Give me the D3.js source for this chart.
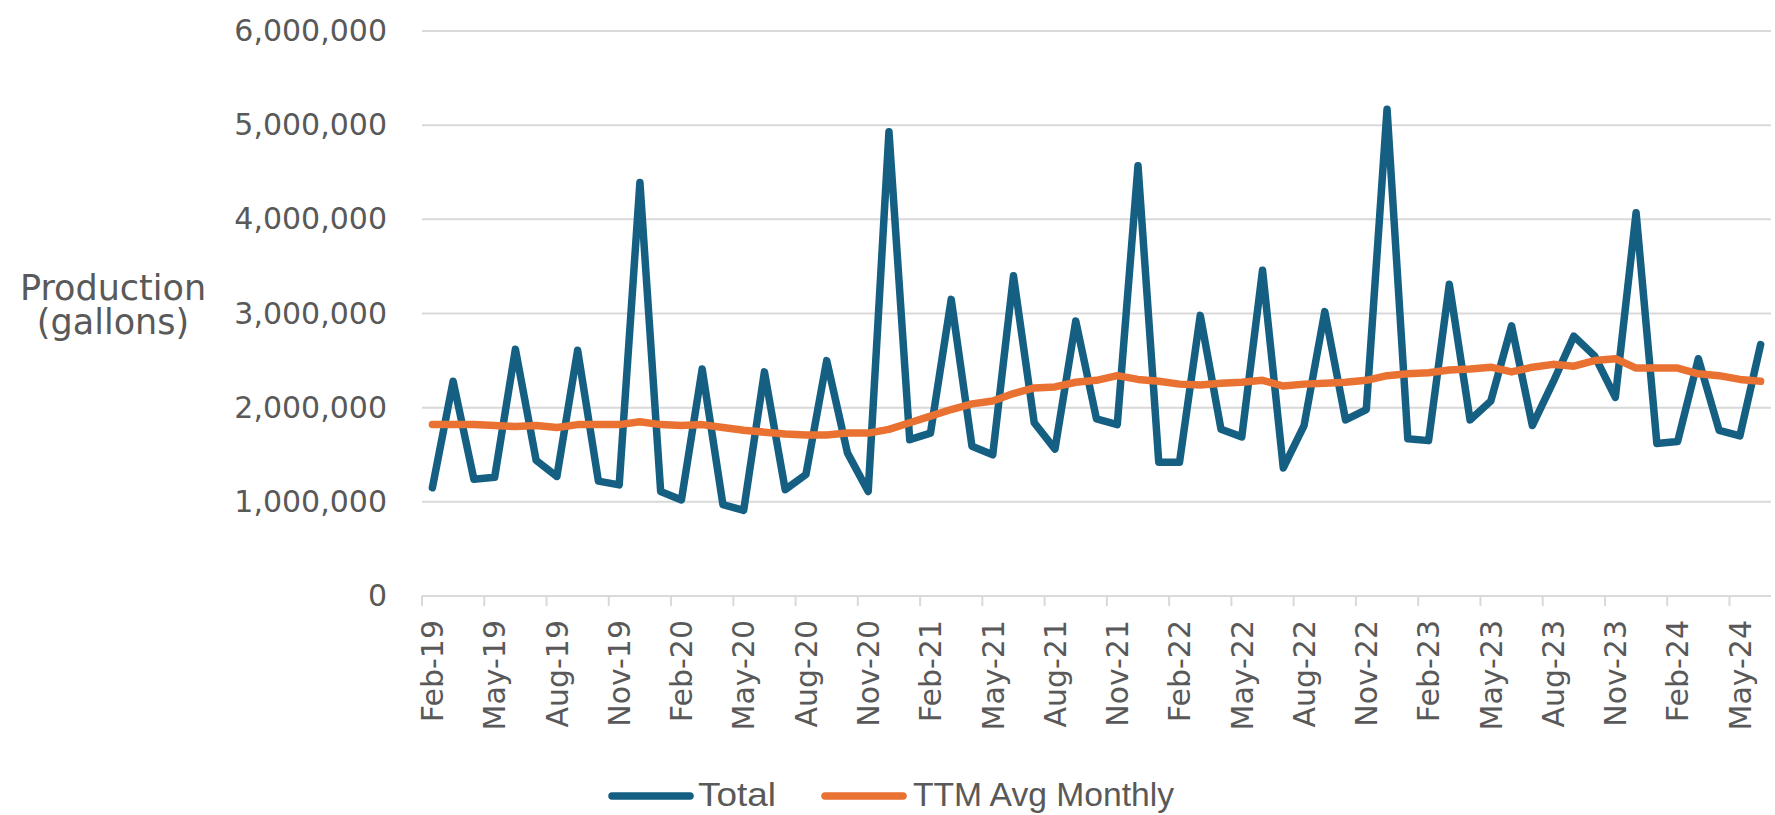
<!DOCTYPE html>
<html>
<head>
<meta charset="utf-8">
<script src="https://cdn.jsdelivr.net/npm/d3@7"></script>
<style>
  body { margin: 0; background: #fff; }
  svg { display: block; }
</style>
</head>
<body>
<div id="chart-area"></div>
<script>
// Monthly production, Feb-19 .. Jun-24 (gallons)
var months = [
  "Feb-19","Mar-19","Apr-19","May-19","Jun-19","Jul-19","Aug-19","Sep-19","Oct-19","Nov-19","Dec-19","Jan-20",
  "Feb-20","Mar-20","Apr-20","May-20","Jun-20","Jul-20","Aug-20","Sep-20","Oct-20","Nov-20","Dec-20","Jan-21",
  "Feb-21","Mar-21","Apr-21","May-21","Jun-21","Jul-21","Aug-21","Sep-21","Oct-21","Nov-21","Dec-21","Jan-22",
  "Feb-22","Mar-22","Apr-22","May-22","Jun-22","Jul-22","Aug-22","Sep-22","Oct-22","Nov-22","Dec-22","Jan-23",
  "Feb-23","Mar-23","Apr-23","May-23","Jun-23","Jul-23","Aug-23","Sep-23","Oct-23","Nov-23","Dec-23","Jan-24",
  "Feb-24","Mar-24","Apr-24","May-24","Jun-24"
];

var total = [
  1150000, 2280000, 1240000, 1260000, 2620000, 1440000, 1270000, 2610000, 1220000, 1180000, 4390000, 1110000,
  1020000, 2410000,  970000,  910000, 2380000, 1130000, 1290000, 2500000, 1520000, 1110000, 4930000, 1660000,
  1730000, 3150000, 1590000, 1500000, 3400000, 1840000, 1560000, 2920000, 1880000, 1820000, 4570000, 1420000,
  1420000, 2980000, 1770000, 1690000, 3460000, 1360000, 1810000, 3020000, 1870000, 1980000, 5170000, 1670000,
  1650000, 3310000, 1870000, 2070000, 2870000, 1810000, 2270000, 2760000, 2550000, 2110000, 4070000, 1620000,
  1640000, 2520000, 1760000, 1700000, 2670000
];

var ttmAvg = [
  1820000, 1820000, 1820000, 1810000, 1800000, 1810000, 1790000, 1820000, 1820000, 1820000, 1850000, 1820000,
  1810000, 1820000, 1790000, 1760000, 1740000, 1720000, 1710000, 1710000, 1730000, 1730000, 1770000, 1840000,
  1910000, 1980000, 2040000, 2070000, 2150000, 2210000, 2220000, 2270000, 2290000, 2340000, 2300000, 2280000,
  2250000, 2240000, 2260000, 2270000, 2290000, 2230000, 2250000, 2260000, 2270000, 2290000, 2340000, 2360000,
  2370000, 2400000, 2410000, 2430000, 2380000, 2430000, 2460000, 2440000, 2500000, 2520000, 2420000, 2420000,
  2420000, 2360000, 2340000, 2300000, 2280000
];

var yTicks = [0, 1000000, 2000000, 3000000, 4000000, 5000000, 6000000];
var seriesNames = ["Total", "TTM Avg Monthly"];
var colors = { "Total": "#156082", "TTM Avg Monthly": "#e97132" };

var W = 1775, H = 815;
var plot = { left: 422, right: 1771, top: 31, bottom: 596 };
var textColor = "#595959", gridColor = "#d9d9d9";
var tickFont = "'DejaVu Sans', Verdana, sans-serif";

var svg = d3.select("#chart-area")
  .append("svg")
  .attr("width", W)
  .attr("height", H);

// Scales
var x = d3.scaleBand()
  .domain(months)
  .range([plot.left, plot.right]);
var y = d3.scaleLinear()
  .domain([0, 6000000])
  .range([plot.bottom, plot.top]);

// Gridlines
svg.append("g").selectAll("line")
  .data(yTicks.filter(function(d){ return d > 0; }))
  .enter().append("line")
    .attr("x1", plot.left)
    .attr("x2", plot.right)
    .attr("y1", function(d){ return y(d); })
    .attr("y2", function(d){ return y(d); })
    .attr("stroke", gridColor)
    .attr("stroke-width", 2);

// Y axis (labels only)
var yAxis = svg.append("g")
  .attr("transform", "translate(" + plot.left + ",0)")
  .call(d3.axisLeft(y).tickValues(yTicks).tickFormat(d3.format(",")).tickSize(0).tickPadding(35));
yAxis.select(".domain").remove();
yAxis.selectAll("text")
  .attr("fill", textColor)
  .style("font-family", tickFont)
  .style("font-size", "30px");

// X axis line + tick marks at category boundaries every 3 months
var labelMonths = months.filter(function(d, i){ return i % 3 === 0; });
svg.append("line")
  .attr("x1", plot.left)
  .attr("x2", plot.right)
  .attr("y1", plot.bottom)
  .attr("y2", plot.bottom)
  .attr("stroke", gridColor)
  .attr("stroke-width", 2);
svg.append("g").selectAll("line")
  .data(labelMonths)
  .enter().append("line")
    .attr("x1", function(d){ return x(d); })
    .attr("x2", function(d){ return x(d); })
    .attr("y1", plot.bottom)
    .attr("y2", plot.bottom + 10)
    .attr("stroke", gridColor)
    .attr("stroke-width", 2);

// X labels, rotated, centred in their category
svg.append("g").selectAll("text")
  .data(labelMonths)
  .enter().append("text")
    .attr("transform", function(d){
      return "translate(" + (x(d) + x.bandwidth() / 2) + "," + (plot.bottom + 24) + ") rotate(-90)";
    })
    .attr("text-anchor", "end")
    .attr("dy", "0.36em")
    .attr("fill", textColor)
    .style("font-family", tickFont)
    .style("font-size", "30px")
    .text(function(d){ return d; });

// Y title
var yTitle = svg.append("text")
  .attr("text-anchor", "middle")
  .attr("fill", textColor)
  .style("font-family", tickFont)
  .style("font-size", "35px");
yTitle.append("tspan").attr("x", 113).attr("y", 300).text("Production");
yTitle.append("tspan").attr("x", 113).attr("y", 334).text("(gallons)");

// Lines
var line = d3.line()
  .x(function(d, i){ return x(months[i]) + x.bandwidth() / 2; })
  .y(function(d){ return y(d); });

[total, ttmAvg].forEach(function(series, k){
  svg.append("path")
    .datum(series)
    .attr("fill", "none")
    .attr("stroke", colors[seriesNames[k]])
    .attr("stroke-width", 7.5)
    .attr("stroke-linejoin", "round")
    .attr("stroke-linecap", "round")
    .attr("d", line);
});

// Legend
var legendItems = [
  { name: "Total", x0: 612, x1: 690, tx: 698, len: 78 },
  { name: "TTM Avg Monthly", x0: 825, x1: 903, tx: 913, len: 261 }
];
var legend = svg.append("g");
legendItems.forEach(function(item){
  legend.append("line")
    .attr("x1", item.x0).attr("x2", item.x1)
    .attr("y1", 796).attr("y2", 796)
    .attr("stroke", colors[item.name])
    .attr("stroke-width", 7.5)
    .attr("stroke-linecap", "round");
  legend.append("text")
    .attr("x", item.tx)
    .attr("y", 806)
    .attr("textLength", item.len)
    .attr("lengthAdjust", "spacingAndGlyphs")
    .attr("fill", textColor)
    .style("font-family", "'Liberation Sans', Arial, sans-serif")
    .style("font-size", "34px")
    .text(item.name);
});
</script>
</body>
</html>
